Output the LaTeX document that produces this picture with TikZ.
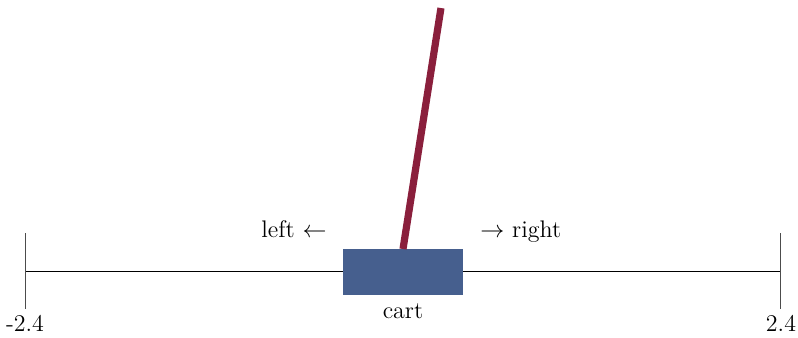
\documentclass[tikz,border=0pt]{standalone}
\usepackage{xcolor}
\usepackage{tikz}
\usetikzlibrary{positioning,calc}

\definecolor{cartblue}{HTML}{465F8E}
\definecolor{polered}{HTML}{8A1F3C}

\begin{document}
\begin{tikzpicture}[x=78.75pt,y=78.75pt,every node/.style={font=\large,inner sep=0pt}]
  \useasboundingbox (-2.559,-0.419) rectangle (2.508,1.721);
  % track with end marks
  \coordinate (tl) at (-2.4,0);
  \coordinate (tr) at (2.4,0);
  \draw[line width=0.45pt] (tl) -- (tr);
  \foreach \e in {tl,tr} {
    \draw[black!70,line width=0.5pt] ($(\e)+(0,0.24)$) -- ($(\e)+(0,-0.24)$);
  }
  \node[anchor=base] (lmin) at (-2.4,-0.387) {-2.4};
  \node[anchor=base] (lmax) at (2.4,-0.387) {2.4};

  % cart and pole
  \node[fill=cartblue,minimum width=0.768*78.75pt,minimum height=0.292*78.75pt,anchor=north] (cart) at (0,0.14) {};
  \coordinate (tip) at (0.241,1.67);
  \draw[polered,line width=3.6pt] (cart.north) -- (tip);
  \node[anchor=base] (cartlbl) at (0,-0.30) {cart};

  % directions
  \node[anchor=base east] (left) at (-0.483,0.216) {left $\leftarrow$};
  \node[anchor=base west] (right) at (0.489,0.216) {$\rightarrow$ right};
\end{tikzpicture}
\end{document}
